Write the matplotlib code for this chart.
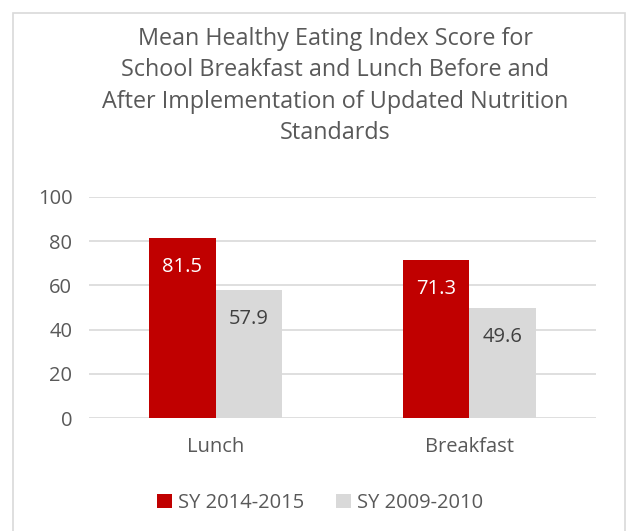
import matplotlib.pyplot as plt
import numpy as np
from matplotlib.patches import Rectangle

plt.rcParams['font.family'] = ['Open Sans', 'DejaVu Sans']

categories = ['Lunch', 'Breakfast']
series_names = ['SY 2014-2015', 'SY 2009-2010']
sy_2014 = [81.5, 71.3]
sy_2009 = [57.9, 49.6]
colors = ['#C00000', '#D9D9D9']
label_colors = ['white', '#404040']
text_color = '#595959'

fig = plt.figure(figsize=(6.27, 5.31), dpi=100)
# chart border
fig.patches.append(Rectangle((13 / 627, -0.05), 612 / 627, 1 - 13 / 531 + 0.05,
                             transform=fig.transFigure, fill=False,
                             edgecolor='#D9D9D9', linewidth=1.2))

ax = fig.add_axes([89 / 627, 1 - 418 / 531, (596 - 89) / 627, (418 - 197) / 531])

x = np.arange(len(categories))
w = 0.263
for i, (vals, col, lc) in enumerate(zip([sy_2014, sy_2009], colors, label_colors)):
    pos = x + (i - 0.5) * w
    bars = ax.bar(pos, vals, width=w, color=col, label=series_names[i], zorder=3)
    for b, v in zip(bars, vals):
        ax.annotate(f'{v}', (b.get_x() + b.get_width() / 2, v), xytext=(0, -29),
                    textcoords='offset pixels', ha='center', va='center',
                    color=lc, fontsize=14.5, zorder=4)

ax.set_xlim(-0.5, 1.5)
ax.set_ylim(0, 100)
ax.set_yticks(range(0, 101, 20))
ax.grid(axis='y', color='#D9D9D9', linewidth=1.2, zorder=0)
for s in ax.spines.values():
    s.set_visible(False)
ax.tick_params(axis='both', length=0, labelsize=14.5, labelcolor=text_color)
ax.tick_params(axis='y', pad=12)
ax.set_xticks(x)
ax.set_xticklabels(categories)
ax.tick_params(axis='x', pad=14)

fig.text(335 / 627, 1 - 86 / 531,
         'Mean Healthy Eating Index Score for\nSchool Breakfast and Lunch Before and\n'
         'After Implementation of Updated Nutrition\nStandards',
         ha='center', va='center', fontsize=16.8, color=text_color, linespacing=1.4)

fig.legend(loc='center', bbox_to_anchor=(320 / 627, 1 - 503 / 531), ncol=2,
           frameon=False, fontsize=14.5, labelcolor=text_color,
           handlelength=0.75, handleheight=0.75, handletextpad=0.3, columnspacing=1.6)

fig.savefig('out.png', dpi=100)
